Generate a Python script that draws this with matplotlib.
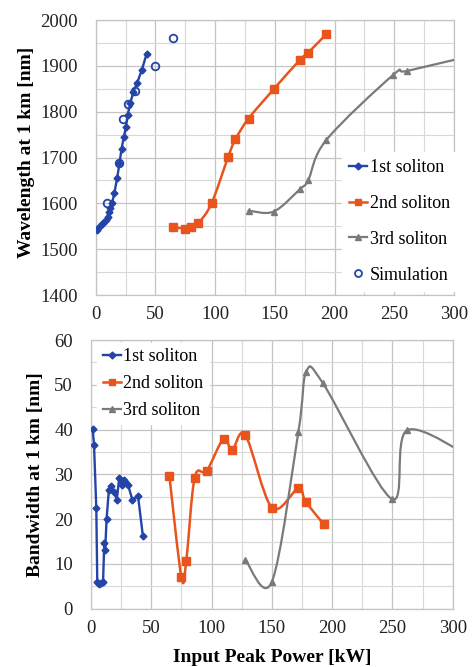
import numpy as np
import matplotlib
matplotlib.use("Agg")
import matplotlib.pyplot as plt
from matplotlib.path import Path
from matplotlib.patches import PathPatch
from matplotlib.lines import Line2D
from matplotlib.ticker import MultipleLocator

plt.rcParams['font.family'] = ['Liberation Serif', 'DejaVu Serif']

# warna seri
biru = '#2444a8'
oranye = '#e8541c'
abu = '#7a7a7a'

# --- data panjang gelombang (panel atas) ---
x1_wl = [0.9, 3.1, 5.1, 6.5, 8.8, 9.9, 10.8, 12.2, 13.6, 15.6, 17.9, 19.9, 21.6,
         23.6, 25.3, 26.7, 29.0, 31.5, 34.7, 38.6, 42.6]
y1_wl = [1542, 1549, 1555, 1558, 1564, 1571, 1582, 1589, 1600, 1622, 1655, 1687, 1719,
         1745, 1767, 1793, 1818, 1844, 1863, 1891, 1926]
x2_wl = [65, 75, 80, 86, 97, 111, 117, 128, 149, 171, 178, 193]
y2_wl = [1548, 1545, 1548, 1557, 1600, 1702, 1740, 1785, 1849, 1913, 1929, 1969]
x3_wl = [128, 149, 171, 178, 193, 249, 261, 320]
y3_wl = [1584, 1582, 1631, 1651, 1738, 1880, 1889, 1925]
xs_wl = [9.3, 19.5, 23.0, 27.2, 32.8, 49.6, 65.0]
ys_wl = [1600, 1687, 1785, 1817, 1845, 1900, 1961]

# --- data lebar pita (panel bawah) ---
x1_bw = [1.4, 2.5, 4.4, 5.2, 6.5, 8.2, 10.0, 11.0, 11.8, 12.9, 14.8, 17.0, 19.2,
         21.4, 23.4, 25.3, 27.5, 28.8, 30.8, 34.3, 39.0, 43.0]
y1_bw = [40.1, 36.6, 22.4, 6.0, 5.5, 5.8, 6.0, 14.7, 13.1, 20.0, 26.4, 27.3, 26.1,
         24.3, 29.3, 27.6, 28.7, 28.0, 27.6, 24.3, 25.2, 16.3]
x2_bw = [65, 75, 79, 86, 96, 110, 117, 128, 150, 172, 178, 193]
y2_bw = [29.7, 7.0, 10.7, 29.3, 30.8, 38.0, 35.4, 38.8, 22.6, 26.9, 23.9, 18.9]
x3_bw = [128, 150, 172, 178.5, 192.5, 249.5, 262.5, 320]
y3_bw = [10.9, 6.0, 39.5, 52.9, 50.3, 24.5, 39.9, 33.0]

label_seri = ['1st soliton', '2nd soliton', '3rd soliton', 'Simulation']


def garis_halus(ax, x, y, warna, lw):
    # kurva Bezier lewat titik data, mirip garis "smoothed" di Excel
    p = np.column_stack([x, y]).astype(float)
    n = len(p)
    verts = [p[0]]
    codes = [Path.MOVETO]
    for i in range(n - 1):
        p0 = p[i - 1] if i > 0 else p[i]
        p1 = p[i]
        p2 = p[i + 1]
        p3 = p[i + 2] if i + 2 < n else p[i + 1]
        verts += [p1 + (p2 - p0) / 6, p2 - (p3 - p1) / 6, p2]
        codes += [Path.CURVE4] * 3
    ax.add_patch(PathPatch(Path(verts, codes), fill=False, edgecolor=warna,
                           lw=lw, capstyle='round', joinstyle='round', zorder=3))


def gaya_sumbu(ax, ymin, ymax, ymaj, ymin_step):
    ax.set_xlim(0, 300)
    ax.set_ylim(ymin, ymax)
    ax.xaxis.set_major_locator(MultipleLocator(50))
    ax.xaxis.set_minor_locator(MultipleLocator(25))
    ax.yaxis.set_major_locator(MultipleLocator(ymaj))
    ax.yaxis.set_minor_locator(MultipleLocator(ymin_step))
    ax.grid(True, which='major', color='#c4c4c4', lw=0.9)
    ax.grid(True, which='minor', color='#d8d8d8', lw=0.8)
    ax.set_axisbelow(True)
    for s in ax.spines.values():
        s.set_color('#c4c4c4')
        s.set_linewidth(0.9)
    ax.tick_params(which='both', length=0, labelsize=13.5, colors='#222222')
    ax.tick_params(axis='y', pad=13)
    ax.tick_params(axis='x', pad=8)


fig = plt.figure(figsize=(4.72, 6.67), dpi=100)

# ---------- panel atas ----------
ax1 = fig.add_axes([0.2028, 0.5577, 0.759, 0.4123])
gaya_sumbu(ax1, 1400, 2000, 100, 50)
ax1.plot(x1_wl, y1_wl, color=biru, lw=1.7, marker='D', ms=3.5, zorder=4)
garis_halus(ax1, x2_wl, y2_wl, oranye, 1.8)
ax1.plot(x2_wl, y2_wl, ls='none', marker='s', ms=5.5, color=oranye, zorder=4)
garis_halus(ax1, x3_wl, y3_wl, abu, 1.6)
ax1.plot(x3_wl, y3_wl, ls='none', marker='^', ms=5, color=abu, zorder=4)
ax1.plot(xs_wl, ys_wl, ls='none', marker='o', ms=5.5, mfc='none', mec=biru,
         mew=1.3, zorder=5)
ax1.set_ylabel('Wavelength at 1 km [nm]', fontsize=14, fontweight='bold')
ax1.yaxis.set_label_coords(-0.17, 0.52)

h1 = [Line2D([], [], color=biru, lw=1.7, marker='D', ms=3.5),
      Line2D([], [], color=oranye, lw=1.8, marker='s', ms=5),
      Line2D([], [], color=abu, lw=1.6, marker='^', ms=5),
      Line2D([], [], ls='none', marker='o', ms=5, mfc='none', mec=biru, mew=1.3)]
leg1 = ax1.legend(h1, label_seri, loc='upper left', bbox_to_anchor=(0.687, 0.52),
                  fontsize=13, frameon=True, fancybox=False, framealpha=1,
                  edgecolor='white', labelspacing=1.04, handlelength=1.0,
                  handletextpad=0.15, borderpad=0.4, borderaxespad=0)

# ---------- panel bawah ----------
ax2 = fig.add_axes([0.1928, 0.0874, 0.7663, 0.4028])
gaya_sumbu(ax2, 0, 60, 10, 5)
ax2.plot(x1_bw, y1_bw, color=biru, lw=1.7, marker='D', ms=3.5, zorder=4)
garis_halus(ax2, x2_bw, y2_bw, oranye, 1.8)
ax2.plot(x2_bw, y2_bw, ls='none', marker='s', ms=5.5, color=oranye, zorder=4)
garis_halus(ax2, x3_bw, y3_bw, abu, 1.6)
ax2.plot(x3_bw, y3_bw, ls='none', marker='^', ms=5, color=abu, zorder=4)
ax2.set_ylabel('Bandwidth at 1 km [nm]', fontsize=14, fontweight='bold')
ax2.yaxis.set_label_coords(-0.13, 0.5)
ax2.set_xlabel('Input Peak Power [kW]', fontsize=14, fontweight='bold', labelpad=9)

leg2 = ax2.legend(h1[:3], label_seri[:3], loc='upper left', bbox_to_anchor=(0.017, 0.99),
                  fontsize=13, frameon=True, fancybox=False, framealpha=1,
                  edgecolor='white', labelspacing=0.55, handlelength=1.0,
                  handletextpad=0.15, borderpad=0.3, borderaxespad=0)

fig.savefig('out.png', dpi=100)
